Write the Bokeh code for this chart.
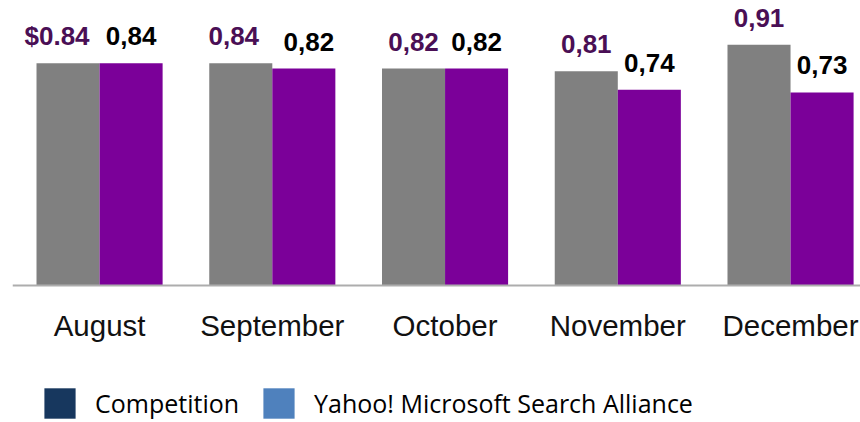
from bokeh.plotting import figure
from bokeh.models import (ColumnDataSource, Range1d, FixedTicker, Legend, LegendItem)
from bokeh.transform import dodge
from bokeh.core.properties import value
from bokeh.embed import file_html
from bokeh.resources import INLINE

# ---- data ----
months = ["August", "September", "October", "November", "December"]
competition = [0.84, 0.84, 0.82, 0.81, 0.91]
yahoo = [0.84, 0.82, 0.82, 0.74, 0.73]
competition_labels = ["$0.84", "0,84", "0,82", "0,81", "0,91"]
yahoo_labels = ["0,84", "0,82", "0,82", "0,74", "0,73"]
series_names = ["Competition", "Yahoo! Microsoft Search Alliance"]

# ---- style ----
GREY = "#808080"
PURPLE = "#7B0099"
LABEL_PURPLE = "#4A0F55"
LEGEND_COLORS = ["#17375E", "#4F81BD"]
BAR_W = 0.365
# small collision nudges for labels that sit side by side at equal heights
comp_nudge = [-11, -7, 0, 0, 0]
yahoo_nudge = [0, 5, 0, 0, 0]

idx = list(range(len(months)))
src = ColumnDataSource(dict(
    x=idx, comp=competition, yahoo=yahoo,
    comp_lab=competition_labels, yahoo_lab=yahoo_labels,
    comp_dx=comp_nudge, yahoo_dx=yahoo_nudge,
))

p = figure(width=860, height=422, output_backend="svg", toolbar_location=None,
           x_range=Range1d(-0.504, 4.405), y_range=Range1d(-0.518, 1.0775),
           min_border_left=12, min_border_right=0, min_border_top=0, min_border_bottom=0)
p.outline_line_color = None
p.grid.visible = False
p.yaxis.visible = False
p.background_fill_color = "white"

p.vbar(x=dodge("x", -BAR_W / 2, range=p.x_range), top="comp", width=BAR_W,
       source=src, fill_color=GREY, line_color=None)
p.vbar(x=dodge("x", BAR_W / 2, range=p.x_range), top="yahoo", width=BAR_W,
       source=src, fill_color=PURPLE, line_color=None)

p.text(x=dodge("x", -BAR_W / 2, range=p.x_range), y="comp", text="comp_lab", source=src,
       x_offset="comp_dx", y_offset=-27, text_align="center", text_baseline="alphabetic",
       text_font=value("Liberation Sans"), text_font_style="bold",
       text_font_size="26px", text_color=LABEL_PURPLE)
p.text(x=dodge("x", BAR_W / 2, range=p.x_range), y="yahoo", text="yahoo_lab", source=src,
       x_offset="yahoo_dx", y_offset=-27, text_align="center", text_baseline="alphabetic",
       text_font=value("Liberation Sans"), text_font_style="bold",
       text_font_size="26px", text_color="#000000")

ax = p.xaxis[0]
ax.fixed_location = 0
ax.ticker = FixedTicker(ticks=idx)
ax.major_label_overrides = {i: m for i, m in zip(idx, months)}
ax.major_tick_line_color = None
ax.minor_tick_line_color = None
ax.major_tick_out = 0
ax.major_tick_in = 0
ax.axis_line_color = "#ADADAD"
ax.axis_line_width = 2
ax.major_label_standoff = 24
ax.major_label_text_font = "Liberation Sans"
ax.major_label_text_font_size = "29.5px"
ax.major_label_text_color = "#111111"

# legend swatches (colours as in the reference legend); zero-height bars so nothing shows in the plot
swatch = ColumnDataSource(dict(x=[0], top=[0]))
r1 = p.vbar(x="x", top="top", bottom=0, width=0.01, source=swatch,
            fill_color=LEGEND_COLORS[0], line_color=None)
r2 = p.vbar(x="x", top="top", bottom=0, width=0.01, source=swatch,
            fill_color=LEGEND_COLORS[1], line_color=None)
legend = Legend(items=[LegendItem(label=series_names[0], renderers=[r1]),
                       LegendItem(label=series_names[1], renderers=[r2])],
                orientation="horizontal", location=(28, 0),
                glyph_width=39, glyph_height=38, label_standoff=16, spacing=20,
                padding=0, margin=0, border_line_color=None, background_fill_alpha=0,
                label_text_font="Open Sans", label_text_font_size="25px",
                label_text_color="#000000", label_height=38)
p.add_layout(legend, "center")

open("out.html", "w").write(file_html(p, INLINE))
